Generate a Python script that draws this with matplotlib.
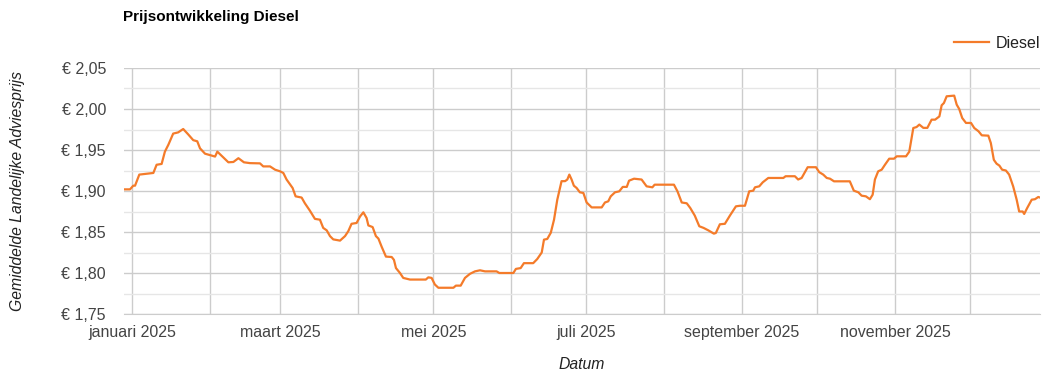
import matplotlib
matplotlib.use('Agg')
import matplotlib.pyplot as plt
import matplotlib.dates as mdates
import matplotlib.ticker as mticker
import pandas as pd

dagen = [-3.3, -0.9, 0.4, 1.1, 2.8, 5.7, 8.4, 9.7, 11.7, 13.0, 14.4, 16.3, 18.3, 20.3,
         22.3, 24.3, 25.9, 27.0, 29.0, 30.7, 33.0, 33.9, 35.6, 38.3, 40.3, 42.3, 44.5,
         46.9, 50.9, 52.2, 54.9, 56.9, 58.9, 60.2, 61.5, 63.9, 65.1, 67.5, 68.8, 70.8,
         72.8, 74.8, 76.1, 77.5, 78.8, 80.1, 82.8, 84.8, 86.1, 87.4, 89.4, 90.8, 92.1,
         93.4, 94.1, 95.8, 97.1, 98.1, 99.4, 101.1, 103.4, 104.3, 105.1, 106.7, 108.0,
         110.7, 117.0, 118.0, 119.3, 120.6, 122.0, 128.0, 129.0, 130.9, 132.6, 134.6,
         136.6, 138.6, 140.6, 145.2, 146.3, 151.9, 152.9, 154.8, 156.1, 159.8, 161.4,
         163.2, 164.1, 165.4, 166.8, 168.1, 169.4, 171.1, 172.5, 173.4, 174.2, 175.1,
         176.0, 177.1, 178.4, 179.8, 181.1, 183.1, 187.1, 188.4, 189.7, 190.7, 192.4,
         194.1, 195.5, 197.1, 198.0, 200.0, 203.0, 205.0, 207.3, 208.2, 215.9, 217.3,
         219.0, 221.0, 222.4, 224.2, 226.0, 227.7, 229.6, 231.8, 232.6, 234.2, 236.2,
         238.2, 240.6, 242.2, 244.2, 245.9, 247.5, 248.2, 249.9, 251.3, 253.5, 259.5,
         260.4, 264.1, 265.4, 266.8, 269.2, 272.5, 273.8, 275.4, 276.8, 278.1, 279.7,
         286.0, 287.6, 289.4, 290.7, 292.4, 294.0, 295.1, 296.0, 297.3, 298.7, 300.0,
         301.7, 303.6, 304.7, 308.4, 309.7, 311.3, 312.6, 313.7, 315.3, 316.9, 318.6,
         320.0, 321.7, 322.6, 323.5, 324.6, 327.6, 328.6, 329.6, 330.8, 332.3, 334.3,
         335.6, 337.3, 338.6, 341.2, 342.2, 343.4, 344.5, 345.6, 346.7, 348.2, 349.5,
         351.1, 352.5, 353.5, 354.9, 355.5, 356.7, 358.5, 359.8, 361.1, 361.8]

prijzen = [1.902, 1.902, 1.9065, 1.9065, 1.920, 1.921, 1.922, 1.932, 1.933, 1.948, 1.9565,
           1.970, 1.9715, 1.9756, 1.969, 1.962, 1.9606, 1.952, 1.9455, 1.944, 1.942,
           1.948, 1.943, 1.935, 1.9354, 1.940, 1.935, 1.934, 1.9337, 1.930, 1.930, 1.926,
           1.924, 1.922, 1.914, 1.9037, 1.8935, 1.892, 1.885, 1.876, 1.866, 1.865, 1.855,
           1.852, 1.845, 1.841, 1.8395, 1.845, 1.851, 1.860, 1.861, 1.869, 1.874, 1.867,
           1.858, 1.856, 1.845, 1.842, 1.832, 1.820, 1.8195, 1.816, 1.806, 1.800, 1.794,
           1.792, 1.792, 1.7947, 1.794, 1.786, 1.782, 1.782, 1.7846, 1.7846, 1.794,
           1.799, 1.802, 1.8033, 1.802, 1.802, 1.800, 1.800, 1.805, 1.806, 1.812, 1.812,
           1.817, 1.825, 1.8407, 1.8415, 1.849, 1.865, 1.8894, 1.912, 1.912, 1.914,
           1.920, 1.914, 1.9065, 1.9037, 1.8984, 1.8976, 1.886, 1.880, 1.880, 1.886,
           1.8874, 1.8935, 1.8984, 1.8996, 1.905, 1.905, 1.9126, 1.915, 1.914, 1.9057,
           1.9045, 1.9077, 1.9077, 1.8996, 1.886, 1.885, 1.8793, 1.870, 1.857, 1.855,
           1.852, 1.848, 1.8488, 1.8594, 1.860, 1.870, 1.8813, 1.882, 1.882, 1.8996,
           1.9004, 1.9045, 1.9057, 1.9106, 1.9159, 1.9159, 1.918, 1.918, 1.914, 1.9159,
           1.929, 1.929, 1.923, 1.920, 1.9159, 1.915, 1.9118, 1.9118, 1.9004, 1.8984,
           1.8943, 1.8935, 1.890, 1.8955, 1.914, 1.924, 1.926, 1.932, 1.9394, 1.9394,
           1.9423, 1.9423, 1.948, 1.9768, 1.978, 1.981, 1.977, 1.977, 1.987, 1.987,
           1.991, 2.0045, 2.0073, 2.0155, 2.0163, 2.0053, 2.000, 1.989, 1.983, 1.983,
           1.9768, 1.9728, 1.9679, 1.9675, 1.9585, 1.938, 1.9333, 1.931, 1.926, 1.925,
           1.920, 1.9057, 1.8894, 1.875, 1.875, 1.872, 1.8793, 1.8894, 1.890, 1.8927,
           1.892]

maanden = ['januari', 'februari', 'maart', 'april', 'mei', 'juni', 'juli', 'augustus',
           'september', 'oktober', 'november', 'december']

plt.rcParams['font.family'] = ['Liberation Sans', 'DejaVu Sans']

start = pd.Timestamp('2025-01-01')
datums = [start + pd.Timedelta(days=d) for d in dagen]

fig = plt.figure(figsize=(10.54, 3.77), dpi=100)
ax = fig.add_axes([124 / 1054, 63 / 377, 916 / 1054, 246 / 377])

ax.plot(datums, prijzen, color='#F47B2A', lw=1.6, label='Diesel', zorder=3)

ax.set_xlim(datums[0], datums[-1])
ax.set_ylim(1.75, 2.05)

# y-as
ax.yaxis.set_major_locator(mticker.MultipleLocator(0.05))
ax.yaxis.set_minor_locator(mticker.MultipleLocator(0.025))
ax.yaxis.set_major_formatter(mticker.FuncFormatter(lambda v, p: '€ ' + f'{v:.2f}'.replace('.', ',')))

# x-as: rasterlijn elke maand, label elke twee maanden
ax.xaxis.set_major_locator(mdates.MonthLocator(bymonth=[1, 3, 5, 7, 9, 11]))
ax.xaxis.set_minor_locator(mdates.MonthLocator())
ax.xaxis.set_major_formatter(mticker.FuncFormatter(
    lambda v, p: f'{maanden[mdates.num2date(v).month - 1]} {mdates.num2date(v).year}'))

ax.grid(which='major', axis='both', color='#cccccc', lw=1)
ax.grid(which='minor', axis='y', color='#e6e6e6', lw=1)
ax.grid(which='minor', axis='x', color='#cccccc', lw=1)
ax.set_axisbelow(True)

for s in ['top', 'right', 'left']:
    ax.spines[s].set_visible(False)
ax.spines['bottom'].set_color('#cccccc')

ax.tick_params(axis='both', which='both', length=0, labelsize=11.5, labelcolor='#444444')
ax.tick_params(axis='y', pad=13)
ax.tick_params(axis='x', pad=8)

ax.set_ylabel('Gemiddelde Landelijke Adviesprijs', style='italic', fontsize=11.3,
              color='#222222')
ax.yaxis.set_label_coords(-(124 - 25) / 916, 0.5)
ax.set_xlabel('Datum', style='italic', fontsize=11.3, color='#222222')
ax.xaxis.set_label_coords(0.5, -(357 - 314) / 246)

fig.text(123 / 1054, 1 - 17 / 377, 'Prijsontwikkeling Diesel', fontsize=11,
         fontweight='bold', va='center', ha='left', color='#000000')

leg = ax.legend(loc='center right', bbox_to_anchor=(1.0, 1 + (68 - 43) / 246), frameon=False,
                fontsize=11.5, handlelength=2.2, handletextpad=0.4, borderaxespad=0,
                borderpad=0)
for t in leg.get_texts():
    t.set_color('#222222')

fig.savefig('out.png', dpi=100)
